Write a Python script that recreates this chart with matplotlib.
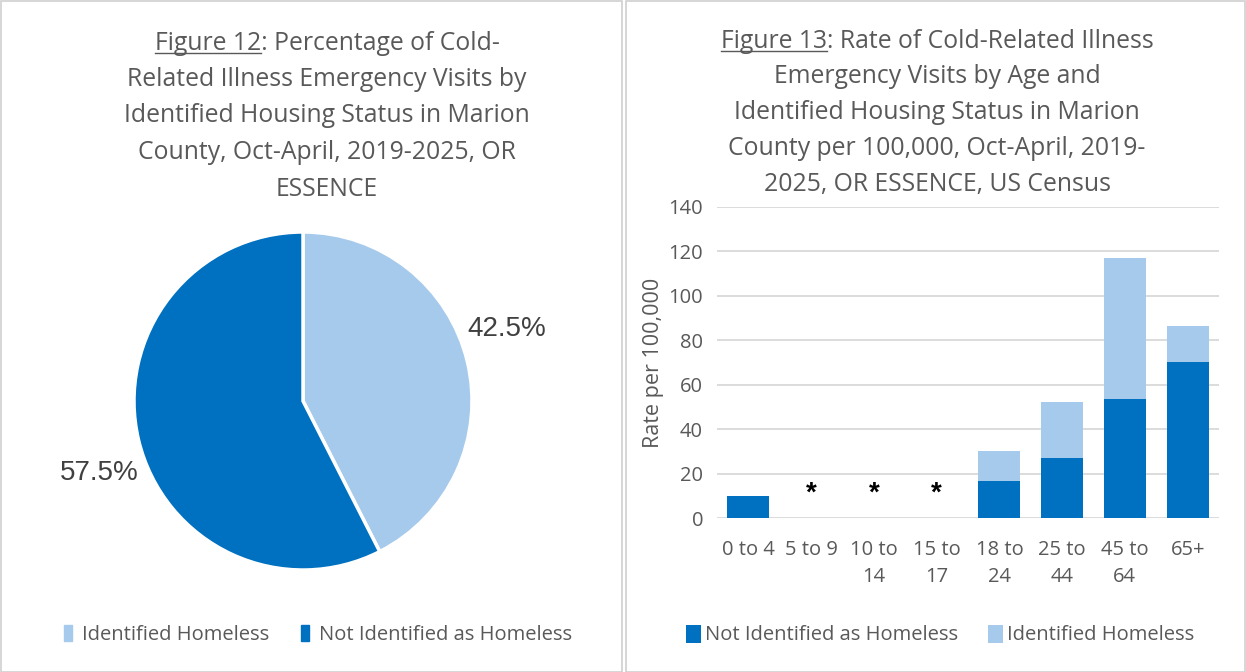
import numpy as np
import matplotlib.pyplot as plt
from matplotlib.patches import Rectangle, Patch
from matplotlib.lines import Line2D

# pie data (Figure 12)
pie_labels = ['Identified Homeless', 'Not Identified as Homeless']
pie_values = [42.5, 57.5]

# stacked bar data (Figure 13)
age_groups = ['0 to 4', '5 to 9', '10 to\n14', '15 to\n17', '18 to\n24', '25 to\n44', '45 to\n64', '65+']
not_homeless = [10.0, 0, 0, 0, 16.8, 26.8, 53.7, 70.2]
homeless = [0, 0, 0, 0, 13.4, 25.5, 63.5, 16.2]
suppressed = [False, True, True, True, False, False, False, False]

title12 = ['Figure 12: Percentage of Cold-',
           'Related Illness Emergency Visits by',
           'Identified Housing Status in Marion',
           'County, Oct-April, 2019-2025, OR',
           'ESSENCE']
title13 = ['Figure 13: Rate of Cold-Related Illness',
           'Emergency Visits by Age and',
           'Identified Housing Status in Marion',
           'County per 100,000, Oct-April, 2019-',
           '2025, OR ESSENCE, US Census']

DARK = '#0070C0'
LIGHT = '#A6CAEC'
GREY = '#595959'
FONT = 'Open Sans'

W, H = 1246, 672
fig = plt.figure(figsize=(W / 100, H / 100), dpi=100)

# panel frames
for x0, x1 in [(1, 622), (626, 1245)]:
    fig.patches.append(Rectangle((x0 / W, 0.5 / H), (x1 - x0) / W, (H - 1.5) / H,
                                 transform=fig.transFigure, fill=False,
                                 edgecolor='#D0D0D0', linewidth=1.2))


def draw_title(lines, xc, y_first, step, size):
    renderer = fig.canvas.get_renderer()
    for i, line in enumerate(lines):
        y = 1 - (y_first + i * step) / H
        t = fig.text(xc / W, y, line, ha='center', va='center', fontsize=size,
                     color=GREY, family=FONT)
        if i == 0:
            # underline the "Figure NN" part
            bb = t.get_window_extent(renderer)
            tmp = fig.text(0, 0, line.split(':')[0], fontsize=size, family=FONT)
            w = tmp.get_window_extent(renderer).width
            tmp.remove()
            yl = (bb.y0 + 3) / H
            fig.add_artist(Line2D([bb.x0 / W, (bb.x0 + w) / W], [yl, yl],
                                  transform=fig.transFigure, color=GREY, lw=1))


draw_title(title12, 327, 43, 36.5, 17.8)
draw_title(title13, 937, 41, 35.8, 17.8)

# ---- pie ----
cx, cy, r = 303, 401, 169
ax1 = fig.add_axes([(cx - r) / W, (H - cy - r) / H, 2 * r / W, 2 * r / H])
wedges, _, autotexts = ax1.pie(pie_values, colors=[LIGHT, DARK], startangle=90,
                               counterclock=False, autopct='%.1f%%', pctdistance=1.28,
                               wedgeprops=dict(edgecolor='white', linewidth=2.5),
                               textprops=dict(fontsize=20, color='#404040',
                                              family='Liberation Sans'))
# nudge labels a little round the circle, like Excel's placement
for wdg, at in zip(wedges, autotexts):
    ang = np.deg2rad((wdg.theta1 + wdg.theta2) / 2 + 6)
    at.set_position((1.28 * np.cos(ang), 1.28 * np.sin(ang)))
ax1.set_xlim(-1, 1)
ax1.set_ylim(-1, 1)
ax1.set_aspect('equal')

fig.legend(handles=[Patch(color=LIGHT), Patch(color=DARK)], labels=pie_labels,
           loc='center', bbox_to_anchor=(318 / W, 1 - 635 / H), ncol=2, frameon=False,
           handlelength=0.4, handleheight=0.8, handletextpad=0.5, columnspacing=1.6,
           prop=dict(family=FONT, size=14.5), labelcolor=GREY)

# ---- stacked bars ----
ax2 = fig.add_axes([717 / W, (H - 518) / H, 502 / W, 311 / H])
x = range(len(age_groups))
ax2.bar(x, not_homeless, width=0.67, color=DARK, label='Not Identified as Homeless', zorder=3)
ax2.bar(x, homeless, width=0.67, bottom=not_homeless, color=LIGHT,
        label='Identified Homeless', zorder=3)
for i, s in enumerate(suppressed):
    if s:
        ax2.text(i, 11, '*', ha='center', va='center', fontsize=20, color='black',
                 family='Liberation Sans', fontweight='bold')
ax2.set_xlim(-0.5, len(age_groups) - 0.5)
ax2.set_ylim(0, 140)
ax2.set_yticks(range(0, 141, 20))
ax2.grid(axis='y', color='#D9D9D9', lw=1.3, zorder=0)
for s in ax2.spines.values():
    s.set_visible(False)
ax2.tick_params(length=0, labelsize=14.5, labelcolor=GREY)
ax2.tick_params(axis='y', pad=10)
ax2.tick_params(axis='x', pad=16)
ax2.set_xticks(list(x))
ax2.set_xticklabels(age_groups, family=FONT, linespacing=1.45, va='top')
for lb in ax2.get_yticklabels():
    lb.set_family(FONT)
ax2.set_ylabel('Rate per 100,000', fontsize=15.5, color=GREY, family=FONT, labelpad=3)

fig.legend(loc='center', bbox_to_anchor=(940 / W, 1 - 635 / H), ncol=2, frameon=False,
           handlelength=0.75, handleheight=1.0, handletextpad=0.2, columnspacing=1.5,
           prop=dict(family=FONT, size=14.5), labelcolor=GREY)

fig.savefig('out.png', dpi=100, facecolor='white')
